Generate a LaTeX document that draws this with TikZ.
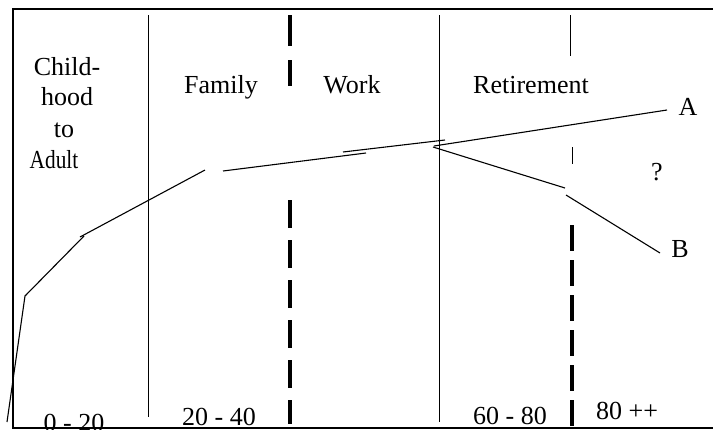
\documentclass[tikz,border=0pt]{standalone}
\usepackage{fontspec}
\setmainfont{Liberation Serif}
\usepackage{graphicx}

\begin{document}
\begin{tikzpicture}[
    x=0.5pt, y=-0.5pt,
    stage/.style={
        inner sep=0pt,
        anchor=base,
        font=\fontsize{13}{15}\selectfont
    },
    divider/.style={
        line width=0.5pt
    },
    boundary/.style={
        line width=1.6pt,
        dash pattern=on 13pt off 4.5pt
    },
    course/.style={
        line width=0.55pt
    }
]

    \useasboundingbox (0,0) rectangle (713,429);

    % Frame
    \draw[line width=0.7pt] (713,9) -- (13,9) -- (13,428) -- (713,428);

    % Dividers
    \draw[divider] (148,15) -- (148,417);
    \draw[divider] (439,15) -- (439,422);
    \draw[divider] (570,15) -- (570,56);
    \draw[divider] (572,147) -- (572,164);
    \draw[boundary, dash pattern=on 15.5pt off 7pt] (290,15) -- (290,86);
    \draw[boundary, dash pattern=on 14pt off 6pt] (290,200) -- (290,424);
    \draw[boundary] (572,225) -- (572,428);

    % Stages
    \node[stage] (child) at (67,75) {Child-};
    \node[stage] (hood) at (67,105) {hood};
    \node[stage] (to) at (64,137) {to};
    \node[stage] (adult) at (54,168) {\scalebox{0.82}[1]{Adult}};
    \node[stage] (family) at (221,93) {Family};
    \node[stage] (work) at (352,93) {Work};
    \node[stage] (retire) at (531,93) {Retirement};

    % Ages
    \node[stage] (age1) at (74,431) {0 - 20};
    \node[stage] (age2) at (219,425.5) {20 - 40};
    \node[stage] (age3) at (510,424.5) {60 - 80};
    \node[stage] (age4) at (627,419.5) {80 ++};

    % Outcomes
    \node[stage] (A) at (688,115) {A};
    \node[stage] (ask) at (657,180) {?};
    \node[stage] (B) at (680,257) {B};

    % Course points
    \coordinate (p0) at (7,422);
    \coordinate (p1) at (25,296);
    \coordinate (p2) at (84,236);
    \coordinate (p3) at (80,237);
    \coordinate (p4) at (205,170);
    \coordinate (p5) at (223,171);
    \coordinate (p6) at (366,153);
    \coordinate (p7) at (343,152);
    \coordinate (p8) at (445,140);
    \coordinate (p9) at (434,146);
    \coordinate (pa) at (667,110);
    \coordinate (q0) at (433,147);
    \coordinate (q1) at (565,188);
    \coordinate (q2) at (566,195);
    \coordinate (pb) at (660,253);

    % Course
    \draw[course] (p0) -- (p1) -- (p2);
    \draw[course] (p3) -- (p4);
    \draw[course] (p5) -- (p6);
    \draw[course] (p7) -- (p8);
    \draw[course] (p9) -- (pa);
    \draw[course] (q0) -- (q1);
    \draw[course] (q2) -- (pb);

\end{tikzpicture}
\end{document}
